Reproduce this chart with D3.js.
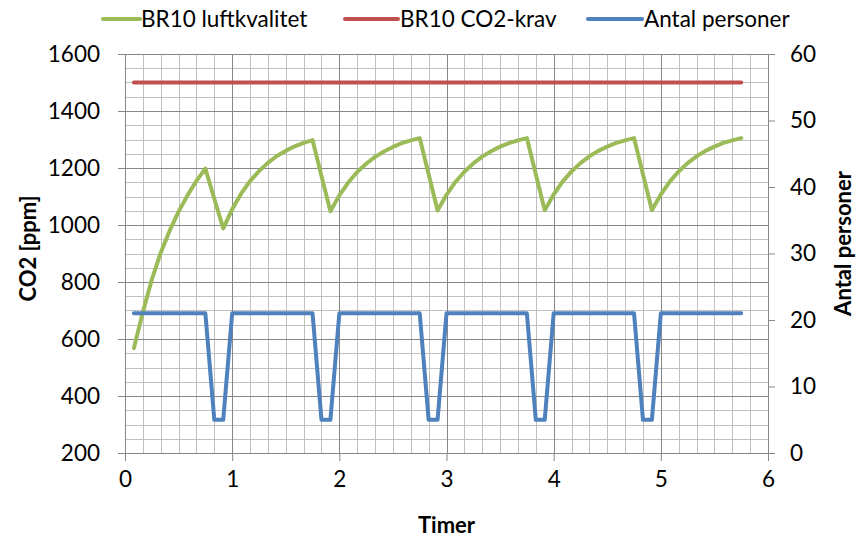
<!DOCTYPE html>
<html><head><meta charset="utf-8">
<script src="https://cdn.jsdelivr.net/npm/d3@7"></script>
<style>
body{margin:0;background:#fff;}
svg{display:block;font-family:Lato,'Liberation Sans',sans-serif;}
</style>
</head><body>
<svg id="c" width="858" height="539"></svg>
<script>
// time in minutes (x axis shown in hours, "Timer")
const minutes = [5,10,15,20,25,30,35,40,45,50,55,60,
  65,70,75,80,85,90,95,100,105,110,115,120,
  125,130,135,140,145,150,155,160,165,170,175,180,
  185,190,195,200,205,210,215,220,225,230,235,240,
  245,250,255,260,265,270,275,280,285,290,295,300,
  305,310,315,320,325,330,335,340,345];
const luftkvalitet = [568,695,808,903,980,1047,1104,1155,1198,1092,988,
  1055,1110,1154,1189,1218,1242,1260,1276,1288,1298,1172,1048,
  1104,1149,1186,1215,1239,1258,1274,1287,1297,1305,1178,1051,
  1106,1151,1187,1216,1240,1259,1275,1287,1297,1305,1178,1052,
  1107,1152,1188,1217,1241,1260,1275,1288,1297,1305,1178,1052,
  1107,1152,1188,1217,1241,1260,1275,1288,1297,1305];
const co2krav = [1500,1500,1500,1500,1500,1500,1500,1500,1500,1500,1500,1500,
  1500,1500,1500,1500,1500,1500,1500,1500,1500,1500,1500,1500,
  1500,1500,1500,1500,1500,1500,1500,1500,1500,1500,1500,1500,
  1500,1500,1500,1500,1500,1500,1500,1500,1500,1500,1500,1500,
  1500,1500,1500,1500,1500,1500,1500,1500,1500,1500,1500,1500,
  1500,1500,1500,1500,1500,1500,1500,1500,1500];
const antalPersoner = [21,21,21,21,21,21,21,21,21,5,5,21,
  21,21,21,21,21,21,21,21,21,5,5,21,
  21,21,21,21,21,21,21,21,21,5,5,21,
  21,21,21,21,21,21,21,21,21,5,5,21,
  21,21,21,21,21,21,21,21,21,5,5,21,
  21,21,21,21,21,21,21,21,21];
const seriesNames = ["BR10 luftkvalitet","BR10 CO2-krav","Antal personer"];
const seriesColors = ["#9BBB59","#C0504D","#4F81BD"];
const xTickLabels = [0,1,2,3,4,5,6];
const leftTickLabels = [200,400,600,800,1000,1200,1400,1600];
const rightTickLabels = [0,10,20,30,40,50,60];
const xTitle = "Timer", yLeftTitle = "CO2 [ppm]", yRightTitle = "Antal personer";

const svg = d3.select("#c");
const L = 125, R = 768, T = 54, B = 453;
const x = d3.scaleLinear().domain([0,6]).range([L,R]);
const yL = d3.scaleLinear().domain([200,1600]).range([B,T]);
const yR = d3.scaleLinear().domain([0,60]).range([B,T]);
const snap = v => Math.round(v) + 0.5;

// gridlines
const g = svg.append("g");
const minorX = d3.range(0, 36).map(i => i/6).filter(v => v % 1 !== 0);
const minorY = d3.range(200, 1601, 50).filter(v => v % 200 !== 0);
g.selectAll(".mx").data(minorX).join("line")
  .attr("x1", d => snap(x(d))).attr("x2", d => snap(x(d)))
  .attr("y1", T).attr("y2", B).attr("stroke", "#c0c0c0").attr("stroke-width", 1);
g.selectAll(".my").data(minorY).join("line")
  .attr("y1", d => snap(yL(d))).attr("y2", d => snap(yL(d)))
  .attr("x1", L).attr("x2", R).attr("stroke", "#c0c0c0").attr("stroke-width", 1);
g.selectAll(".Mx").data(xTickLabels.slice(1, -1)).join("line")
  .attr("x1", d => snap(x(d))).attr("x2", d => snap(x(d)))
  .attr("y1", T).attr("y2", B).attr("stroke", "#868686").attr("stroke-width", 1);
g.selectAll(".My").data(leftTickLabels).join("line")
  .attr("y1", d => snap(yL(d))).attr("y2", d => snap(yL(d)))
  .attr("x1", L).attr("x2", R).attr("stroke", "#868686").attr("stroke-width", 1);

// axes
const fs = 22.5, tfs = 22;
function styleAxis(sel){
  sel.select(".domain").attr("stroke", "#868686");
  sel.selectAll(".tick line").attr("stroke", "#868686");
  sel.selectAll(".tick text").attr("fill", "#000").style("font-size", fs + "px").style("font-family", "Lato,'Liberation Sans',sans-serif");
}
svg.append("g").attr("transform", `translate(0,${B})`)
  .call(d3.axisBottom(x).tickValues(xTickLabels).tickSize(8).tickSizeOuter(0).tickPadding(10).tickFormat(d3.format("d")))
  .call(styleAxis);
svg.append("g").attr("transform", `translate(${L},0)`)
  .call(d3.axisLeft(yL).tickValues(leftTickLabels).tickSize(7).tickSizeOuter(0).tickPadding(18).tickFormat(d3.format("d")))
  .call(styleAxis);
svg.append("g").attr("transform", `translate(${R},0)`)
  .call(d3.axisRight(yR).tickValues(rightTickLabels).tickSize(7).tickSizeOuter(0).tickPadding(15).tickFormat(d3.format("d")))
  .call(styleAxis);

// titles
svg.append("text").attr("x", (L+R)/2).attr("y", 533).attr("text-anchor", "middle")
  .style("font-size", tfs + "px").style("font-weight", "bold").text(xTitle);
svg.append("text").attr("transform", `translate(36,${(T+B)/2 - 5}) rotate(-90)`).attr("text-anchor", "middle")
  .style("font-size", tfs + "px").style("font-weight", "bold").text(yLeftTitle);
svg.append("text").attr("transform", `translate(851,${(T+B)/2 - 10}) rotate(-90)`).attr("text-anchor", "middle")
  .style("font-size", tfs + "px").style("font-weight", "bold").text(yRightTitle);

// series
const idx = d3.range(minutes.length);
const lineL = vals => d3.line().x(i => x(minutes[i]/60)).y(i => yL(vals[i]))(idx);
const lineR = vals => d3.line().x(i => x(minutes[i]/60)).y(i => yR(vals[i]))(idx);
const paths = [lineL(luftkvalitet), lineL(co2krav), lineR(antalPersoner)];
svg.append("g").selectAll("path").data(paths).join("path")
  .attr("d", d => d).attr("fill", "none")
  .attr("stroke", (d,i) => seriesColors[i]).attr("stroke-width", 4)
  .attr("stroke-linejoin", "round").attr("stroke-linecap", "round");

// legend
const legendItems = [
  {x1:103, x2:140, tx:141},
  {x1:345, x2:398, tx:400},
  {x1:588, x2:642, tx:644}
];
const lg = svg.append("g");
legendItems.forEach((it, i) => {
  lg.append("line").attr("x1", it.x1).attr("x2", it.x2).attr("y1", 19).attr("y2", 19)
    .attr("stroke", seriesColors[i]).attr("stroke-width", 4).attr("stroke-linecap", "round");
  lg.append("text").attr("x", it.tx).attr("y", 27).style("font-size", fs + "px").text(seriesNames[i]);
});
</script>
</body></html>
